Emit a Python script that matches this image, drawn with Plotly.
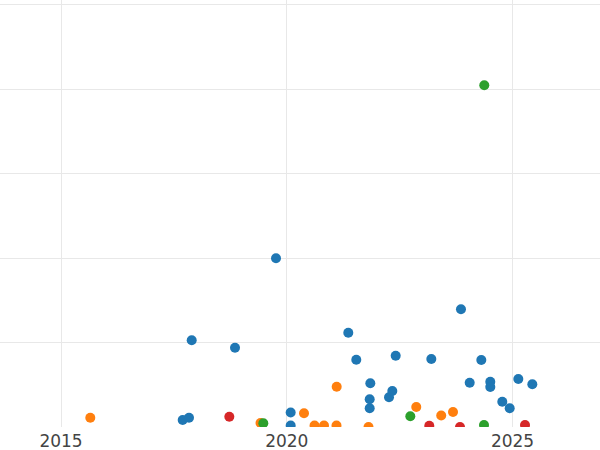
import plotly.graph_objects as go

# Data (x = year, y = value)
blue_x = [2017.695, 2017.835, 2017.895, 2018.854, 2019.762, 2020.087, 2020.087, 2021.363,
          2021.540, 2022.413, 2021.851, 2021.837, 2021.837, 2022.265, 2022.338, 2023.202,
          2023.859, 2024.052, 2024.309, 2024.508, 2024.508, 2024.774, 2024.938, 2025.129,
          2025.439]
blue_y = [1.66, 2.20, 20.52, 18.77, 39.93, 3.43, 0.36, 22.32,
          15.93, 16.88, 10.34, 6.56, 4.43, 7.03, 8.52, 16.10,
          27.86, 10.49, 15.86, 10.72, 9.47, 5.99, 4.43, 11.36,
          10.11]

orange_x = [2015.649, 2019.419, 2020.382, 2020.615, 2020.825, 2021.102, 2021.106,
            2021.811, 2022.869, 2023.421, 2023.682]
orange_y = [2.20, 0.95, 3.24, 0.36, 0.36, 0.36, 9.54,
            0.0, 4.73, 2.72, 3.55]

green_x = [2019.481, 2022.737, 2024.369, 2024.375]
green_y = [0.88, 2.53, 0.47, 80.88]

red_x = [2018.728, 2023.157, 2023.837, 2025.277]
red_y = [2.44, 0.31, 0.0, 0.47]

x_range = [2013.649, 2026.938]
y_range = [0, 101.07]
x_tickvals = [2015, 2020, 2025]
x_ticktext = ["2015", "2020", "2025"]

series = [
    ("blue", blue_x, blue_y, "#1f77b4"),
    ("orange", orange_x, orange_y, "#ff7f0e"),
    ("green", green_x, green_y, "#2ca02c"),
    ("red", red_x, red_y, "#d62728"),
]

fig = go.Figure()
for name, xs, ys, col in series:
    fig.add_trace(go.Scatter(x=xs, y=ys, mode="markers", name=name,
                             marker=dict(color=col, size=10, line=dict(width=0))))

fig.update_layout(
    width=600, height=450,
    margin=dict(l=0, r=0, t=0, b=23),
    paper_bgcolor="white", plot_bgcolor="white",
    showlegend=False,
    font=dict(family="DejaVu Sans", size=17, color="#444"),
)
fig.update_xaxes(range=x_range, tickvals=x_tickvals, ticktext=x_ticktext,
                 showgrid=True, gridcolor="#e8e8e8", gridwidth=1, zeroline=False,
                 showline=False, ticks="", automargin=False, ticklabelstandoff=2)
fig.update_yaxes(range=y_range, dtick=20, tick0=0, showticklabels=False,
                 showgrid=True, gridcolor="#e8e8e8", gridwidth=1, zeroline=False,
                 showline=False, ticks="", automargin=False)

fig.write_html("out.html",
               config={"displayModeBar": False},
               post_script="document.body.style.margin='0px';document.body.style.overflow='hidden';")
